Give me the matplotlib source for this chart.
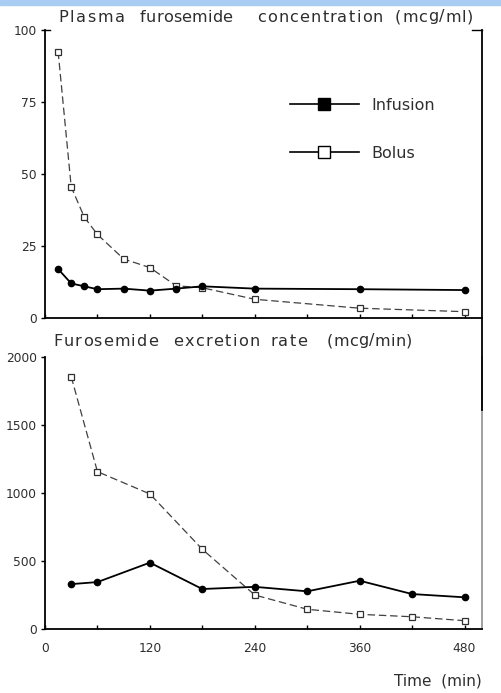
import matplotlib
matplotlib.use("Agg")
import matplotlib.pyplot as plt
from matplotlib.lines import Line2D
from matplotlib.patches import Rectangle

# Plasma concentration (mcg/ml)
plasma_time = [15, 30, 45, 60, 90, 120, 150, 180, 240, 360, 480]
plasma_infusion = [17, 12, 11, 10, 10.2, 9.5, 10.2, 11, 10.2, 10, 9.7]
plasma_bolus = [92.5, 45.5, 35, 29, 20.5, 17.5, 11.2, 10.5, 6.5, 3.4, 2.2]

# Excretion rate (mcg/min)
excr_time = [30, 60, 120, 180, 240, 300, 360, 420, 480]
excr_infusion = [330, 345, 488, 294, 310, 277, 355, 257, 233]
excr_bolus = [1855, 1157, 993, 586, 250, 145, 108, 90, 61]

x_ticks = [0, 120, 240, 360, 480]
x_minor = [0, 60, 120, 180, 240, 300, 360, 420, 480]
plasma_yticks = [0, 25, 50, 75, 100]
excr_yticks = [0, 500, 1000, 1500, 2000]

title_top = ["Plasma", "furosemide", "concentration", "(mcg/ml)"]
title_bottom = ["Furosemide", "excretion", "rate", "(mcg/min)"]

W, H = 501, 693
fig = plt.figure(figsize=(W / 100, H / 100), dpi=100)
fig.patch.set_facecolor("white")

# light blue strip along the top edge
fig.patches.append(Rectangle((0, 1 - 5 / H), 1, 5 / H, transform=fig.transFigure,
                             color="#a9cdf2", zorder=0))

TXT = "#2e2e2e"
left = 45 / W
width = (482 - 45) / W
ax1 = fig.add_axes([left, 1 - 318 / H, width, (318 - 30) / H])
ax2 = fig.add_axes([left, 1 - 629 / H, width, (629 - 357) / H])

inf_style = dict(color="black", lw=1.3, marker="o", ms=4.5, mfc="black", mec="black")
bol_style = dict(color="#404040", lw=0.9, ls=(0, (6, 3)), marker="s", ms=4,
                 mfc="white", mec="#303030", mew=0.9)

ax1.plot(plasma_time, plasma_infusion, **inf_style, zorder=3)
ax1.plot(plasma_time, plasma_bolus, **bol_style, zorder=2)
ax2.plot(excr_time, excr_infusion, **inf_style, zorder=3)
ax2.plot(excr_time, excr_bolus, **bol_style, zorder=2)

for ax, yt, ymax in ((ax1, plasma_yticks, 100), (ax2, excr_yticks, 2000)):
    ax.set_xlim(0, 500)
    ax.set_ylim(0, ymax)
    ax.spines["top"].set_visible(False)
    for s in ("left", "bottom", "right"):
        ax.spines[s].set_linewidth(1.3)
        ax.spines[s].set_color("black")
    ax.set_yticks(yt)
    ax.set_yticklabels([str(v) for v in yt])
    ax.tick_params(axis="y", direction="out", length=3, width=1, pad=3,
                   labelsize=8.8, labelcolor=TXT)
    ax.set_xticks(x_minor)
    ax.tick_params(axis="x", direction="in", length=3, width=1)

ax2.spines["right"].set_color("#9a9a9a")
ax1.set_xticklabels([])
ax2.set_xticks(x_ticks)
ax2.set_xticks(x_minor, minor=True)
ax2.tick_params(axis="x", which="both", direction="in", length=3, width=1,
                pad=9, labelsize=8.8, labelcolor=TXT)

# right frame line continuing below the upper panel
fig.add_artist(Line2D([482 / W, 482 / W], [1 - 318 / H, 1 - 410 / H],
                      transform=fig.transFigure, color="black", lw=1.3))
# small hooks at the top of the upper frame
fig.add_artist(Line2D([45 / W, 50 / W], [1 - 30 / H, 1 - 30 / H],
                      transform=fig.transFigure, color="black", lw=1.0))
fig.add_artist(Line2D([472 / W, 482 / W], [1 - 30 / H, 1 - 30 / H],
                      transform=fig.transFigure, color="black", lw=1.0))

handles = [
    Line2D([], [], color="black", lw=1.2, marker="s", ms=8, mfc="black", mec="black"),
    Line2D([], [], color="black", lw=1.2, marker="s", ms=8, mfc="white", mec="black"),
]
ax1.legend(handles, ["Infusion", "Bolus"], loc="upper left",
           bbox_to_anchor=((282 - 45) / 437, (318 - 90) / 288),
           frameon=False, fontsize=11.5, handlelength=4.3, handletextpad=0.8,
           labelspacing=2.05, borderpad=0, labelcolor=TXT)


def tracked_word(word, x0, x1, y, size):
    """Draw a word letter by letter, spread evenly between pixel columns x0 and x1."""
    renderer = fig.canvas.get_renderer()
    chars = []
    for ch in word:
        t = fig.text(0, 1 - y / H, ch, ha="left", va="center", fontsize=size, color=TXT)
        chars.append((t, t.get_window_extent(renderer).width))
    total = sum(w for _, w in chars)
    gap = (x1 - x0 - total) / max(len(chars) - 1, 1)
    x = x0
    for t, w in chars:
        t.set_x(x / W)
        x += w + gap


for words, spans, y in ((title_top, [(58, 125), (140, 232), (257, 383), (395, 473)], 17),
                        (title_bottom, [(53, 158), (173, 260), (270, 307), (327, 412)], 341)):
    for w, (a, b) in zip(words, spans):
        tracked_word(w, a, b, y, 11.6)

fig.text(482 / W, 1 - 681 / H, "Time  (min)", ha="right", va="center",
         fontsize=11, color=TXT)

fig.savefig("out.png", dpi=100)
